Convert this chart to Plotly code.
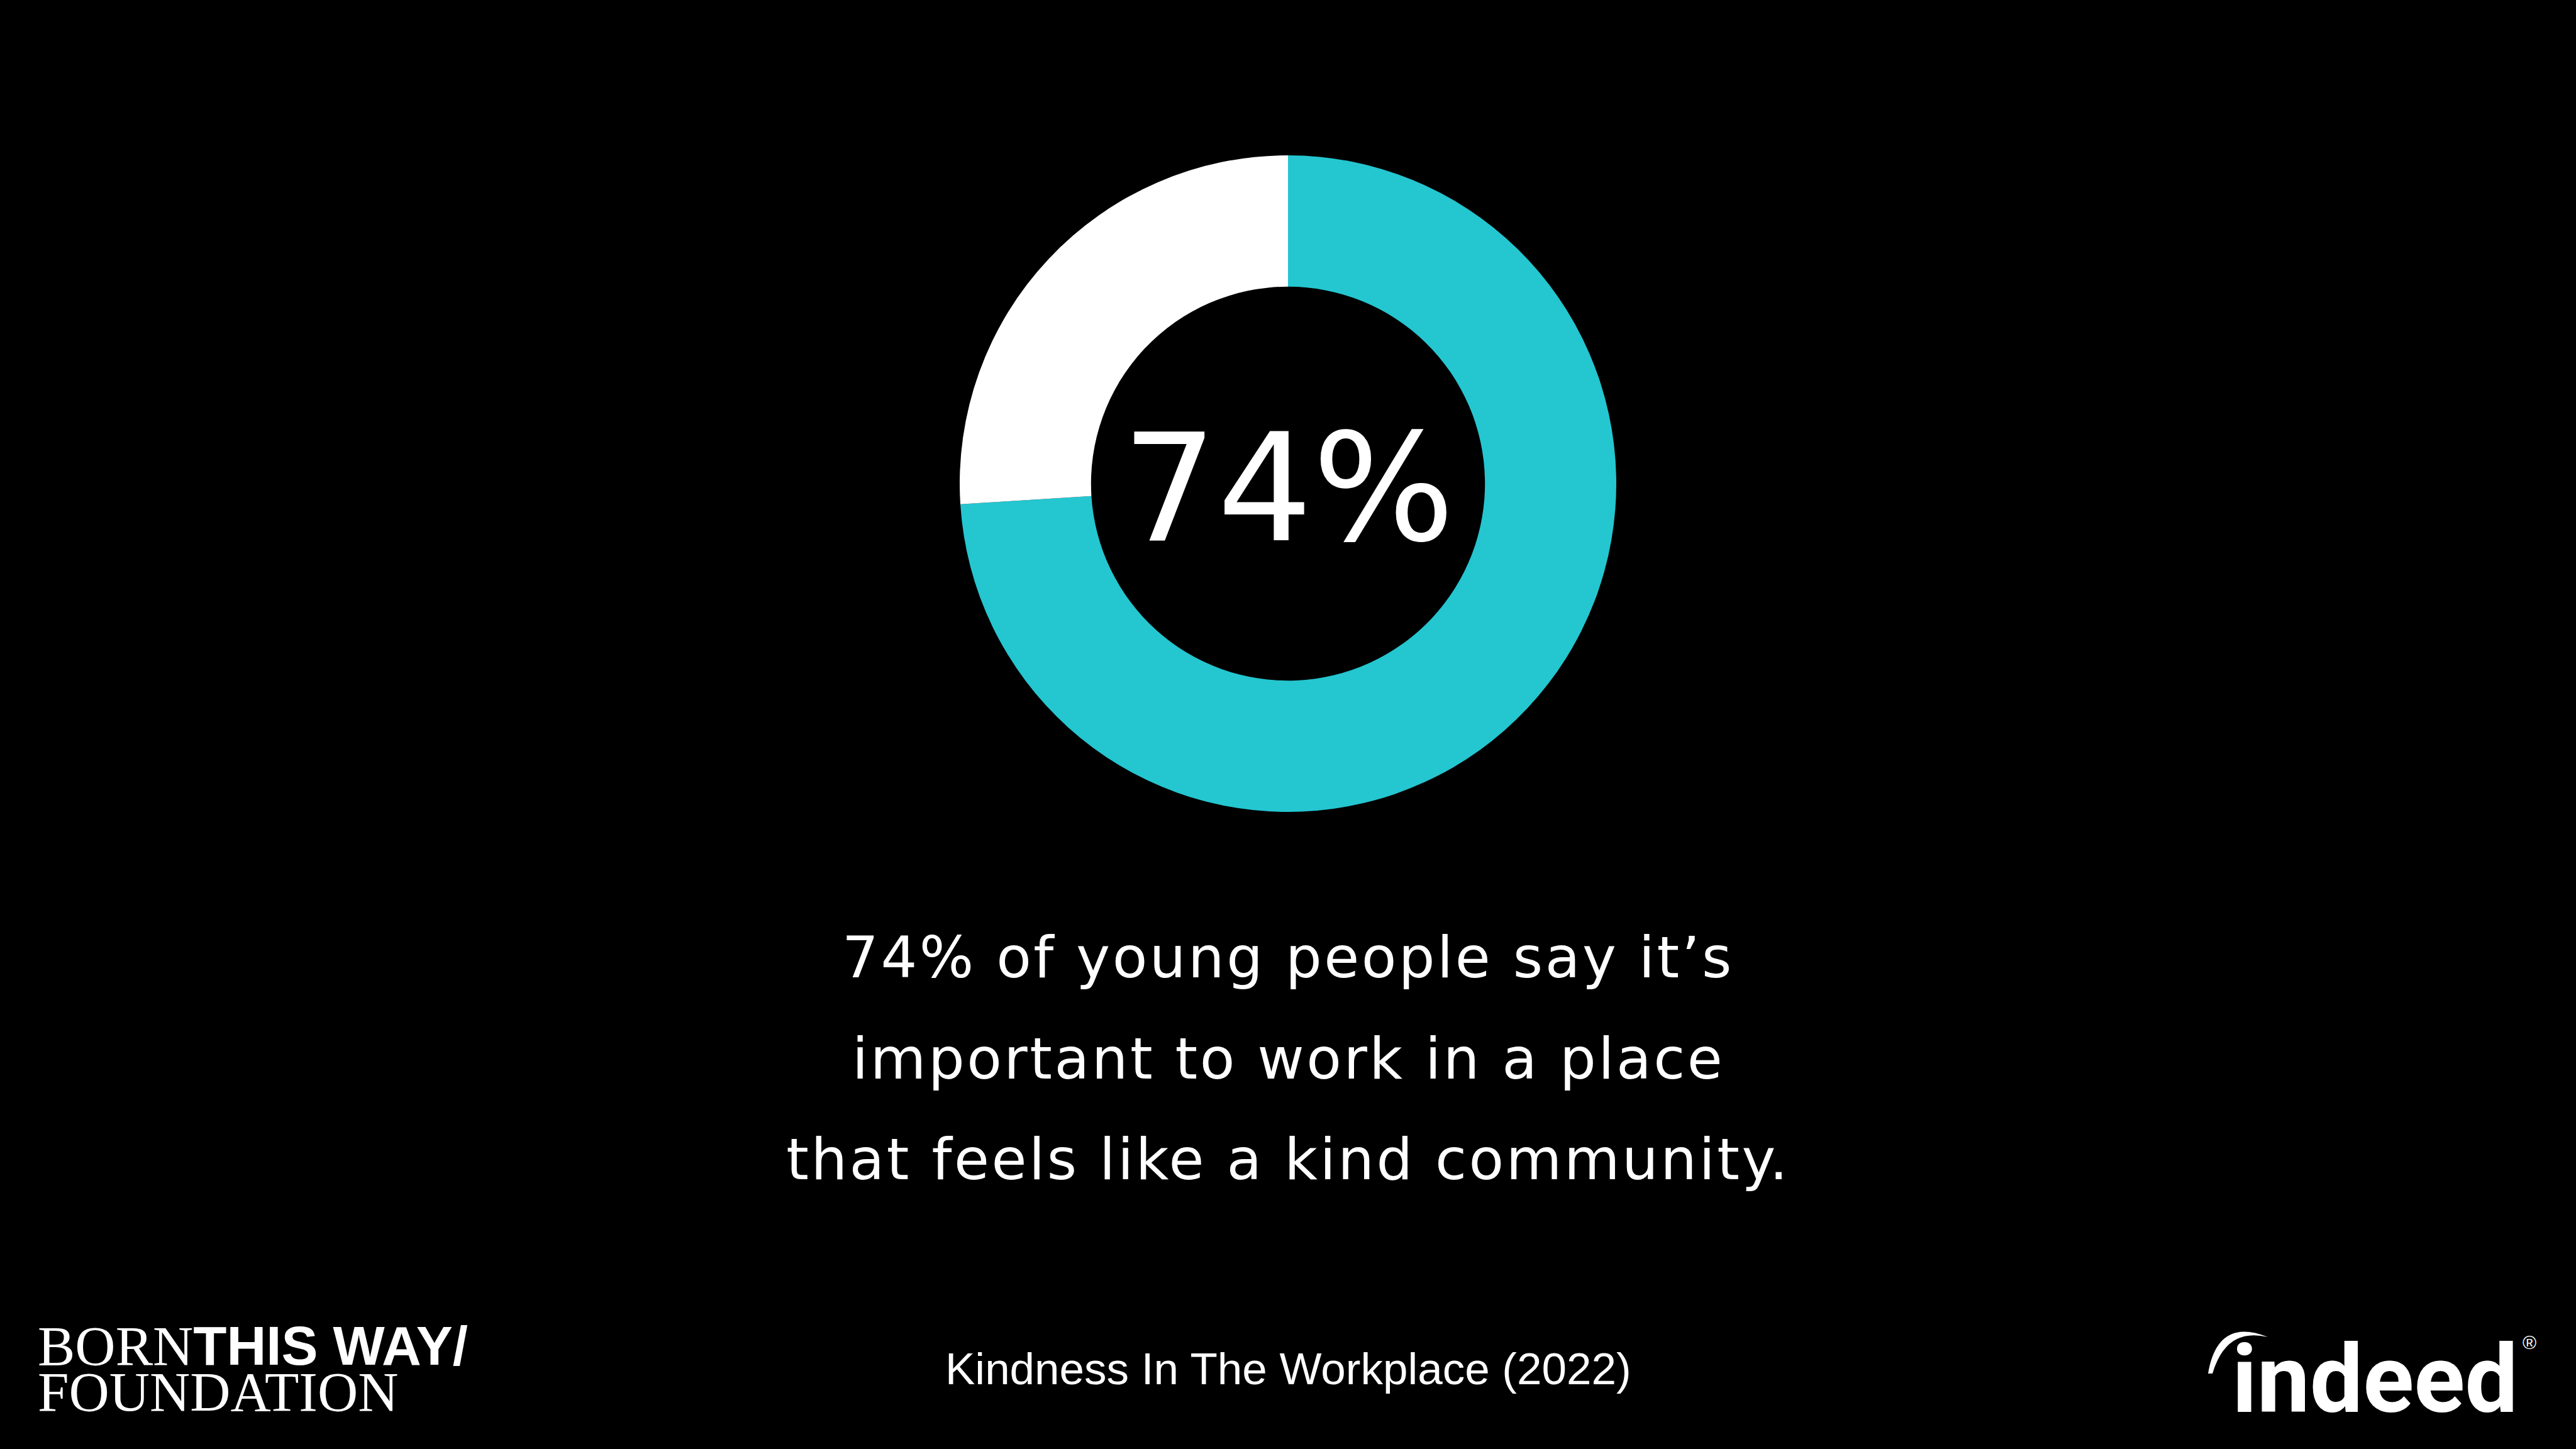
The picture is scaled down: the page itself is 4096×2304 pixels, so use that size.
import plotly.graph_objects as go

W, H = 4096, 2304

# ---- data ----
categories = ["Important to work in a kind community", "Other"]
values = [74, 26]
slice_colors = ["#24C6D0", "#FFFFFF"]

statement_lines = [
    "74% of young people say it\u2019s",
    "important to work in a place",
    "that feels like a kind community.",
]
source_text = "Kindness In The Workplace (2022)"


def px(x):
    return x / W


def py(y):
    return 1 - y / H


fig = go.Figure()

fig.add_trace(go.Pie(
    labels=categories,
    values=values,
    marker=dict(colors=slice_colors, line=dict(width=0)),
    hole=0.6,
    sort=False,
    direction="clockwise",
    rotation=0,
    textinfo="none",
    hoverinfo="label+percent",
    showlegend=False,
    domain=dict(x=[px(1526), px(2570)], y=[py(1291), py(247)]),
))

annotations = []

# centre value
annotations.append(dict(
    text=f"{values[0]}%", x=px(2048), y=py(776), xref="paper", yref="paper",
    xanchor="center", yanchor="middle", showarrow=False,
    font=dict(family="DejaVu Sans", size=238, color="#FFFFFF"),
))

# statement lines
line_centres = [1522, 1683, 1843]
for t, yc in zip(statement_lines, line_centres):
    annotations.append(dict(
        text=t, x=px(2048), y=py(yc), xref="paper", yref="paper",
        xanchor="center", yanchor="middle", showarrow=False,
        font=dict(family="DejaVu Sans", size=91, color="#FFFFFF"),
    ))

# source
annotations.append(dict(
    text=source_text, x=px(2048), y=py(2176), xref="paper", yref="paper",
    xanchor="center", yanchor="middle", showarrow=False,
    font=dict(family="Liberation Sans", size=71, color="#FFFFFF"),
))

# Born This Way Foundation logo (text)
annotations.append(dict(
    text='BORN<span style="font-family:Liberation Sans;font-weight:bold;font-size:87px">THIS WAY/</span>',
    x=px(58), y=py(2140), xref="paper", yref="paper",
    xanchor="left", yanchor="middle", showarrow=False,
    font=dict(family="Liberation Serif", size=89, color="#FFFFFF"),
))
annotations.append(dict(
    text="FOUNDATION", x=px(58), y=py(2213), xref="paper", yref="paper",
    xanchor="left", yanchor="middle", showarrow=False,
    font=dict(family="Liberation Serif", size=89, color="#FFFFFF"),
))

# indeed logo (text)
annotations.append(dict(
    text="<b>indeed</b>", x=px(4006), y=py(2194), xref="paper", yref="paper",
    xanchor="right", yanchor="middle", showarrow=False,
    font=dict(family="Roboto", size=150, color="#FFFFFF"),
))
annotations.append(dict(
    text="\u00ae", x=px(4022), y=py(2134), xref="paper", yref="paper",
    xanchor="center", yanchor="middle", showarrow=False,
    font=dict(family="Liberation Sans", size=30, color="#FFFFFF"),
))

arc = (f"M {px(3511)},{py(2184)} Q {px(3526)},{py(2094)} {px(3606)},{py(2126)} "
       f"Q {px(3540)},{py(2110)} {px(3518)},{py(2184)} Z")

fig.update_layout(
    width=W, height=H,
    margin=dict(l=0, r=0, t=0, b=0),
    paper_bgcolor="#000000",
    plot_bgcolor="#000000",
    annotations=annotations,
    shapes=[dict(type="path", path=arc, xref="paper", yref="paper",
                 fillcolor="#FFFFFF", line=dict(width=0))],
)

post = (
    "document.body.style.margin='0';"
    "document.body.style.background='#000';"
    "var spaced=" + repr(statement_lines).replace("'", '"') + ";"
    "document.querySelectorAll('text.annotation-text').forEach(function(t){"
    "if(spaced.indexOf(t.textContent)>=0){t.style.letterSpacing='3.5px';}});"
)

fig.write_html(
    "out.html",
    config={"displayModeBar": False},
    post_script=post,
)
